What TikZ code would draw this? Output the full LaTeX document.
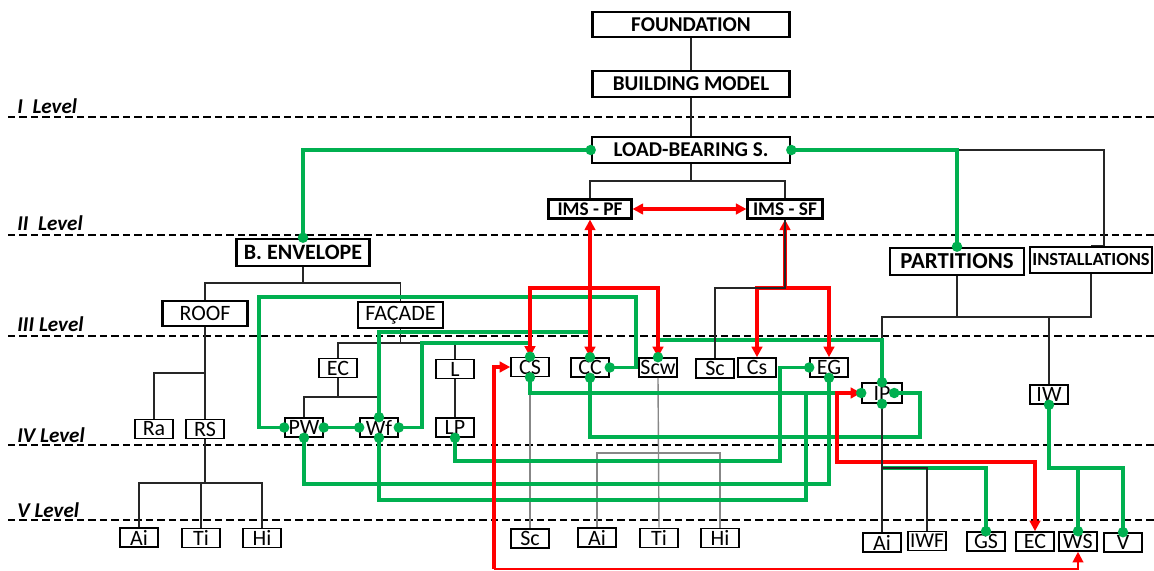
\documentclass[tikz,border=0pt]{standalone}
\usepackage{fontspec}
\setmainfont{Carlito}
\usetikzlibrary{arrows.meta}
\definecolor{gr}{RGB}{0,176,80}
\definecolor{rd}{RGB}{255,0,0}
\definecolor{gy}{RGB}{135,135,135}
\begin{document}
\begin{tikzpicture}[x=0.02cm,y=-0.02cm,
  bigbox/.style={draw,line width=1.5pt,inner sep=0pt,font=\fontsize{12}{14}\selectfont\bfseries},
  midbox/.style={draw,line width=1.5pt,inner sep=0pt,font=\fontsize{12.5}{14}\selectfont},
  smallbox/.style={draw,line width=0.9pt,inner sep=0pt,minimum width=0.76cm,minimum height=0.38cm,font=\fontsize{12.5}{14}\selectfont},
  lvl/.style={anchor=base west,inner sep=0pt,font=\fontsize{12}{14}\selectfont\bfseries\itshape},
  lvline/.style={line width=1.3pt,dash pattern=on 0.15cm off 0.08cm},
  tree/.style={line width=0.8pt,black!85},
  gtree/.style={line width=0.8pt,gy},
  gline/.style={line width=2.2pt,gr},
  rline/.style={line width=2.2pt,rd,>={Triangle[length=6pt,width=6pt]}},
]
\useasboundingbox (0,0) rectangle (1154,571);

% level lines
\foreach \yy in {117,235,336,445,520} \draw[lvline] (8,\yy) -- (1154,\yy);
\node[lvl] (L1) at (17,114) {I\ \ Level};
\node[lvl] (L2) at (17,231) {II\ \ Level};
\node[lvl] (L3) at (17,331) {III Level};
\node[lvl] (L4) at (17,442) {IV Level};
\node[lvl] (L5) at (17,517) {V Level};

% big boxes
\node[bigbox,minimum width=3.94cm,minimum height=0.5cm] (FND) at (691,24.5) {FOUNDATION};
\node[bigbox,minimum width=3.94cm,minimum height=0.52cm] (BM) at (691,84) {BUILDING MODEL};
\node[bigbox,minimum width=3.96cm,minimum height=0.52cm] (LB) at (691,150) {LOAD-BEARING S.};
\node[bigbox,line width=1.2pt,font=\fontsize{11}{13}\selectfont\bfseries,minimum width=1.66cm,minimum height=0.38cm] (PF) at (590,209) {IMS - PF};
\node[bigbox,line width=1.2pt,font=\fontsize{11}{13}\selectfont\bfseries,minimum width=1.5cm,minimum height=0.38cm] (SF) at (785,209) {IMS - SF};
\node[bigbox,font=\fontsize{12.5}{14}\selectfont\bfseries,minimum width=2.66cm,minimum height=0.54cm] (ENV) at (303,252.5) {B. ENVELOPE};
\node[bigbox,font=\fontsize{13}{15}\selectfont\bfseries,minimum width=2.68cm,minimum height=0.54cm] (PART) at (957,261.5) {PARTITIONS};
\node[bigbox,font=\fontsize{10.5}{12}\selectfont\bfseries,minimum width=2.44cm,minimum height=0.52cm] (INST) at (1091,260) {INSTALLATIONS};
\node[midbox,minimum width=1.7cm,minimum height=0.5cm] (ROOF) at (205,313.5) {ROOF};
\node[midbox,minimum width=1.7cm,minimum height=0.52cm] (FAC) at (400.5,315) {FAÇADE};

% small boxes
\node[smallbox] (EC1) at (338,368) {EC};
\node[smallbox] (L) at (455,369) {L};
\node[smallbox] (CS) at (530,367) {CS};
\node[smallbox] (CC) at (590,367.5) {CC};
\node[smallbox] (Scw) at (658,367.5) {Scw};
\node[smallbox] (Sc1) at (715,368.5) {Sc};
\node[smallbox] (Cs2) at (757,367.5) {Cs};
\node[smallbox] (EG) at (829,367.5) {EG};
\node[smallbox,minimum width=0.8cm,minimum height=0.4cm] (IP) at (882,393) {IP};
\node[smallbox] (IW) at (1049,394.5) {IW};
\node[smallbox] (Ra) at (154,429) {Ra};
\node[smallbox] (RS) at (205,429) {RS};
\node[smallbox] (PW) at (304,427.5) {PW};
\node[smallbox] (Wf) at (379,427.5) {Wf};
\node[smallbox] (LP) at (455,427.5) {LP};
\node[smallbox] (Ai1) at (139,537.5) {Ai};
\node[smallbox] (Ti1) at (201,538) {Ti};
\node[smallbox] (Hi1) at (262,538) {Hi};
\node[smallbox] (Sc2) at (530,538.5) {Sc};
\node[smallbox] (Ai2) at (597,537.5) {Ai};
\node[smallbox] (Ti2) at (659,538) {Ti};
\node[smallbox] (Hi2) at (720,538) {Hi};
\node[smallbox] (Ai3) at (882,542.5) {Ai};
\node[smallbox,font=\fontsize{12}{14}\selectfont] (IWF) at (927,541) {IWF};
\node[smallbox] (GS) at (986,541.5) {GS};
\node[smallbox] (EC2) at (1035,541.5) {EC};
\node[smallbox] (WS) at (1078,541.5) {WS};
\node[smallbox] (V) at (1123,542.5) {V};

% junction coordinates
\coordinate (jLB) at (691,181);
\coordinate (jENV) at (303,283);
\coordinate (jR) at (205,373);
\coordinate (jRS) at (205,483);
\coordinate (jFAC) at (400.5,343);
\coordinate (jEC) at (338,397);
\coordinate (jPART) at (957,317);
\coordinate (jIW) at (1049,317);
\coordinate (jIP) at (882,468);
\coordinate (jSF) at (785,288);
\coordinate (jW) at (806,393);
\coordinate (rB) at (494,569);
\coordinate (IPr) at ([xshift=-0.17cm]IP.east);

% black / grey tree
\draw[tree] (FND) -- (BM);
\draw[tree] (BM) -- (LB);
\draw[tree] (LB.south) -- (jLB);
\draw[tree] (PF.north) |- (785,181) -- (SF.north);
\draw[tree] (LB.east) -- (1104,150) |- (INST.north);
\draw[tree] (ENV.south) -- (jENV);
\draw[tree] (ROOF.north) |- (400.5,283) -- (FAC.north);
\draw[tree] (ROOF.south) -- (RS.north);
\draw[tree] (jR) -| (Ra.north);
\draw[tree] (RS.south) -- (jRS);
\draw[tree] (Ai1.north) |- (262,483) -- (Hi1.north);
\draw[tree] (Ti1.north) -- (201,483);
\draw[tree] (FAC.south) -- (jFAC);
\draw[tree] (EC1.north) |- (455,343) -- (L.north);
\draw[tree] (EC1.south) -- (jEC);
\draw[tree] (PW.north) |- (379,397) -- (Wf.north);
\draw[tree] (L) -- (LP);
\draw[gtree] (CS.south) -- (Sc2.north);
\draw[gtree] (Scw.south) -- (Ti2.north);
\draw[gtree] (Ai2.north) |- (720,453) -- (Hi2.north);
\draw[tree] (PART.south) -- (jPART);
\draw[tree] (IP.north) |- (1091,317) -- (INST.south);
\draw[tree] (IW.north) -- (jIW);

% green links
\draw[gline] (LB.west) -| (ENV.north);
\draw[gline] (LB.east) -| (PART.north);
\draw[gline] (PW.west) -- (259,427.5) |- (636,297) |- (CC.east);
\draw[gline] (PW.east) -- (Wf.west);
\draw[gline] (Wf.north) -- (379,332) -| (CC.north);
\draw[gline] (Wf.east) -- (422,427.5) |- (530,343) -- (CS.north);
\draw[gline] (PW.south) |- (829,484) -- (EG.south);
\draw[gline] (Wf.south) |- (806,500) -- (jW);
\draw[gline] (LP.south) |- (780,461) |- (EG.west);
\draw[gline] (CS.south) |- (IP.west);
\draw[gline] (CC.south) |- (920,437) |- (IPr);
\draw[gline] (Scw.north) -- (658,340) -| (IP.north);
\draw[gline] (jIP) -| (GS.north);
\draw[gline] (IW.south) |- (1123,468) -- (V.north);
\draw[gline] (1078,468) -- (WS.north);

% red links
\draw[rline,<->] (PF.east) -- (SF.west);
\draw[rline,<->] (PF.south) -- (CC.north);
\draw[rline,<->] (CS.north) |- (658,288) -- (Scw.north);
\draw[rline,->] (jSF) -- (SF.south);
\draw[rline,<->] (Cs2.north) |- (829,288) -- (EG.north);
\draw[rline,<-] (CS.west) -- (494,367) -- (rB);
\draw[rline,line width=1.2pt,->] (rB) -| (WS.south);
\draw[rline,<->] (IP.west) -- (837,393) -- (837,462) -| (EC2.north);

% black over red / green
\draw[tree] (SF.south) -- (jSF) -| (Sc1.north);
\draw[tree] (IP.south) -- (Ai3.north);
\draw[tree] (jIP) -| (IWF.north);

% dots
\foreach \p in {LB.west,LB.east,ENV.north,PART.north,PW.west,PW.east,PW.south,
  Wf.west,Wf.east,Wf.north,Wf.south,LP.south,CS.north,CS.south,CC.north,CC.east,
  CC.south,Scw.north,EG.west,EG.south,IP.north,IP.west,IPr,IP.south,IW.south,
  GS.north,WS.north,V.north}
  \fill[gr] (\p) circle[radius=0.105cm];
\end{tikzpicture}
\end{document}
